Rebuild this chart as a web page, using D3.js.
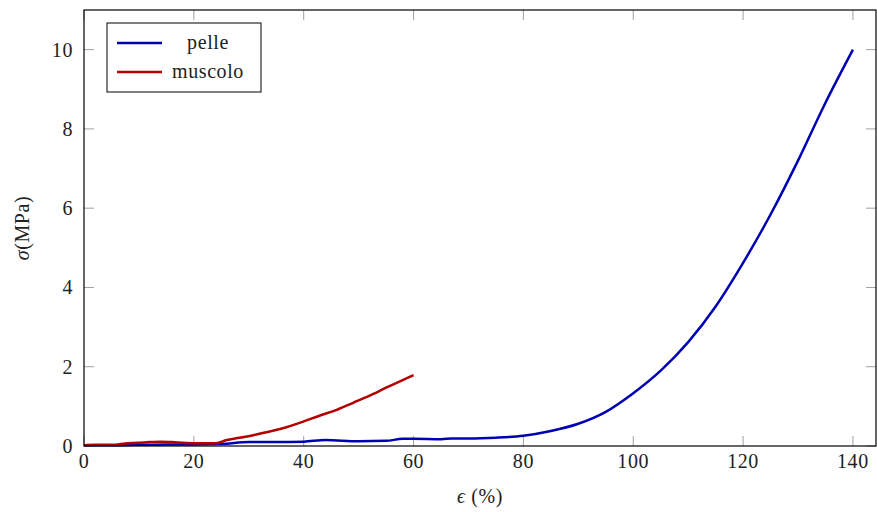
<!DOCTYPE html>
<html>
<head>
<meta charset="utf-8">
<script src="https://cdn.jsdelivr.net/npm/d3@7"></script>
<style>
  body { margin: 0; background: #fff; }
  text { font-family: "Liberation Serif", "DejaVu Serif", serif; fill: #222; letter-spacing: 0.6px; }
</style>
</head>
<body>
<div id="chart"></div>
<script>
// strain (%) and stress (MPa)
const pelleX = [0, 5, 10, 15, 20, 25, 30, 35, 40, 44, 50, 55, 58, 60, 65, 67, 70, 75, 80, 85, 90, 95, 100, 105, 110, 115, 120, 125, 130, 135, 140]
const pelleY = [0.02, 0.02, 0.03, 0.04, 0.04, 0.05, 0.1, 0.1, 0.11, 0.15, 0.12, 0.13, 0.18, 0.18, 0.17, 0.19, 0.19, 0.21, 0.26, 0.38, 0.56, 0.86, 1.33, 1.9, 2.62, 3.52, 4.62, 5.84, 7.2, 8.66, 10.0]

const muscoloX = [0, 2, 5, 8, 11, 14, 17, 20, 24, 26, 28, 31, 34, 37, 40, 43, 46, 49, 52, 55, 58, 60]
const muscoloY = [0.02, 0.03, 0.03, 0.07, 0.09, 0.11, 0.09, 0.07, 0.07, 0.15, 0.2, 0.28, 0.37, 0.48, 0.62, 0.77, 0.91, 1.09, 1.27, 1.47, 1.66, 1.79]

const xTicks = [0, 20, 40, 60, 80, 100, 120, 140]
const yTicks = [0, 2, 4, 6, 8, 10]
const seriesNames = ["pelle", "muscolo"]
const seriesColors = ["#0000b3", "#b30000"]

let width = 877, height = 512
let plotLeft = 84, plotRight = 876, plotTop = 10, plotBottom = 446

let svg = d3.select("#chart").append("svg")
            .attr("width", width).attr("height", height)

let x = d3.scaleLinear().domain([0, 144.2]).range([plotLeft, plotRight])
let y = d3.scaleLinear().domain([0, 11]).range([plotBottom, plotTop])

//ticks inside on all four sides, gray like pgfplots
let tickLen = 10
let g = svg.append("g").attr("stroke", "#a0a0a0").attr("stroke-width", 1)
xTicks.forEach((t) => {
    g.append("line").attr("x1", x(t)).attr("x2", x(t)).attr("y1", plotBottom).attr("y2", plotBottom - tickLen)
    g.append("line").attr("x1", x(t)).attr("x2", x(t)).attr("y1", plotTop).attr("y2", plotTop + tickLen)
})
yTicks.forEach((t) => {
    g.append("line").attr("y1", y(t)).attr("y2", y(t)).attr("x1", plotLeft).attr("x2", plotLeft + tickLen)
    g.append("line").attr("y1", y(t)).attr("y2", y(t)).attr("x1", plotRight).attr("x2", plotRight - tickLen)
})

//tick labels
svg.selectAll(".xlab").data(xTicks).enter().append("text")
   .attr("class", "xlab")
   .attr("x", (d) => x(d)).attr("y", 468)
   .attr("text-anchor", "middle").attr("font-size", 20)
   .text((d) => d)
svg.selectAll(".ylab").data(yTicks).enter().append("text")
   .attr("class", "ylab")
   .attr("x", 73).attr("y", (d) => y(d) + 7)
   .attr("text-anchor", "end").attr("font-size", 20)
   .text((d) => d)

//lines
let line = d3.line().x((d) => x(d[0])).y((d) => y(d[1])).curve(d3.curveMonotoneX)
let series = [d3.zip(pelleX, pelleY), d3.zip(muscoloX, muscoloY)]
svg.selectAll(".series").data(series).enter().append("path")
   .attr("class", "series")
   .attr("d", line)
   .attr("fill", "none")
   .attr("stroke", (d, i) => seriesColors[i])
   .attr("stroke-width", 2.5)
   .attr("stroke-linejoin", "round")

//axis box
svg.append("rect")
   .attr("x", plotLeft).attr("y", plotTop)
   .attr("width", plotRight - plotLeft).attr("height", plotBottom - plotTop)
   .attr("fill", "none").attr("stroke", "#000").attr("stroke-width", 1.2)

//axis titles
let xt = svg.append("text").attr("x", (plotLeft + plotRight) / 2).attr("y", 503)
            .attr("text-anchor", "middle").attr("font-size", 20)
xt.append("tspan").attr("font-style", "italic").text("ϵ")
xt.append("tspan").text(" (%)")

let yt = svg.append("text").attr("transform", `translate(29,${(plotTop + plotBottom) / 2}) rotate(-90)`)
            .attr("text-anchor", "middle").attr("font-size", 20)
yt.append("tspan").attr("font-style", "italic").text("σ")
yt.append("tspan").text("(MPa)")

//legend
let legend = svg.append("g")
legend.append("rect").attr("x", 107).attr("y", 23).attr("width", 154).attr("height", 69)
      .attr("fill", "#fff").attr("stroke", "#000").attr("stroke-width", 1)
seriesNames.forEach((name, i) => {
    let ly = 43 + i * 29
    legend.append("line").attr("x1", 117).attr("x2", 162).attr("y1", ly).attr("y2", ly)
          .attr("stroke", seriesColors[i]).attr("stroke-width", 2.5)
    legend.append("text").attr("x", 208).attr("y", ly + 6)
          .attr("text-anchor", "middle").attr("font-size", 20).text(name)
})
</script>
</body>
</html>
